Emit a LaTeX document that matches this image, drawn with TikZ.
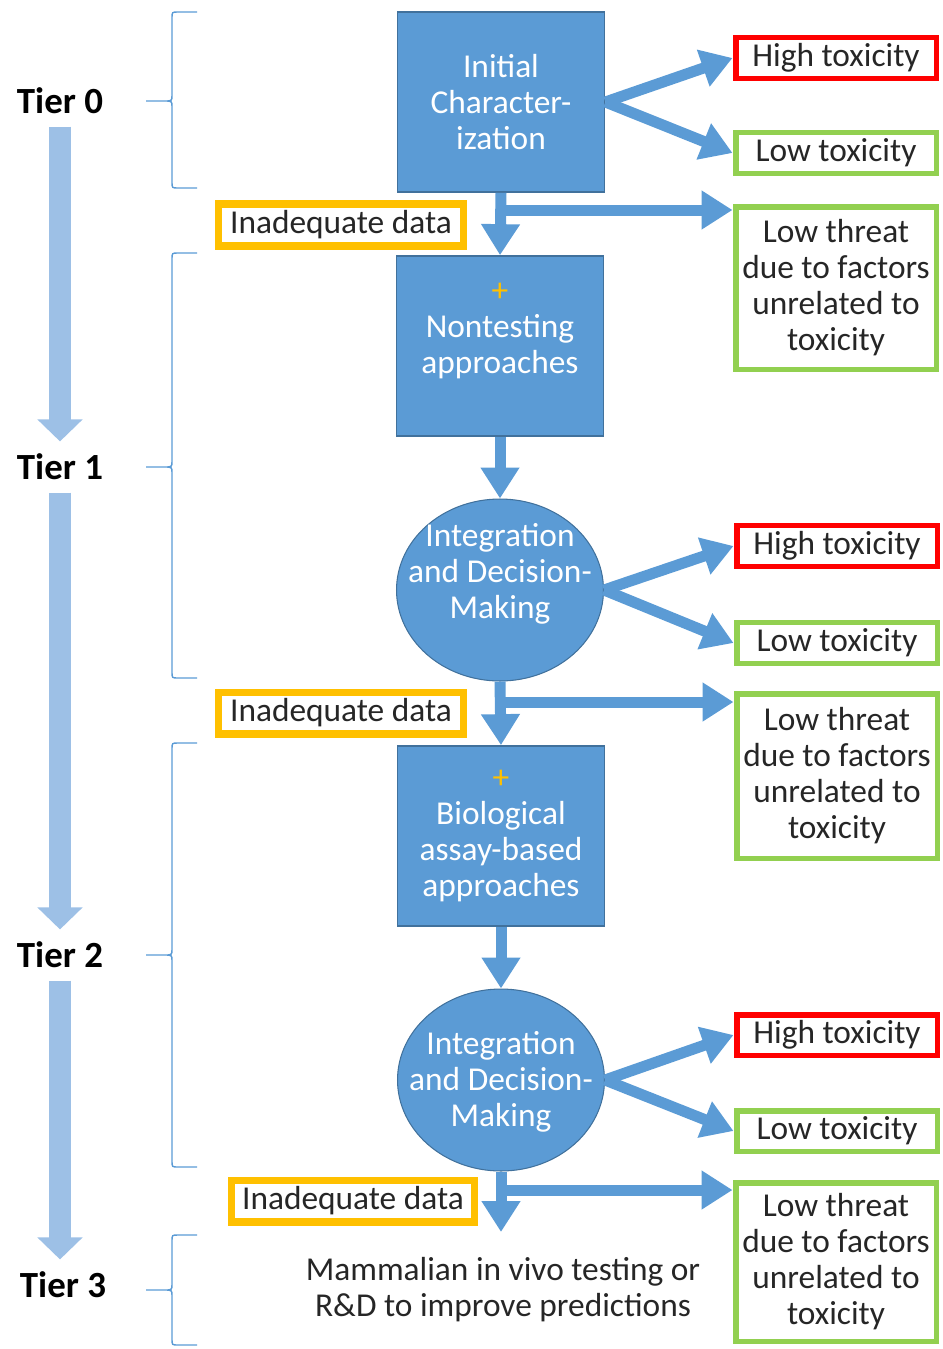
\documentclass[tikz,border=0pt]{standalone}
\usepackage{fontspec}
\setmainfont{Carlito}
\usepackage{tikz}
\usetikzlibrary{shapes.geometric,arrows.meta}
\definecolor{boxblue}{HTML}{5B9BD5}
\definecolor{boxedge}{HTML}{41719C}
\definecolor{tierblue}{HTML}{9DC0E6}
\definecolor{inadorange}{HTML}{FFC000}
\definecolor{highred}{HTML}{FF0000}
\definecolor{lowgreen}{HTML}{92D050}
\definecolor{textgray}{HTML}{262626}

\begin{document}
\begin{tikzpicture}[x=0.02cm,y=-0.02cm]
	\tikzstyle{every node}=[font=\fontsize{19}{20.5}\selectfont, text=textgray, align=center, inner sep=0];
	\tikzstyle{tier}=[font=\fontsize{21}{24}\selectfont\bfseries, text=black, outer sep=0.25cm];
	\tikzstyle{process}=[rectangle, fill=boxblue, draw=boxedge, line width=1pt, text=white, minimum width=4.14cm, minimum height=3.6cm];
	\tikzstyle{decision}=[ellipse, fill=boxblue, draw=boxedge, line width=0.6pt, minimum width=4.14cm, minimum height=3.64cm];
	\tikzstyle{inadequate}=[rectangle, fill=white, draw=inadorange, line width=4pt, minimum width=4.9cm, minimum height=0.84cm];
	\tikzstyle{high}=[rectangle, fill=white, draw=highred, line width=3.4pt, minimum width=4.02cm, minimum height=0.82cm];
	\tikzstyle{low}=[rectangle, fill=white, draw=lowgreen, line width=3.4pt, minimum width=4.02cm, minimum height=0.82cm];
	\tikzstyle{threat}=[low, minimum height=3.26cm];
	\tikzstyle{flow}=[draw=boxblue, line width=0.22cm, -{Triangle[width=0.74cm,length=0.62cm]}];
	\tikzstyle{tierarrow}=[draw=tierblue, line width=0.44cm, -{Triangle[width=0.88cm,length=0.44cm]}];
	\tikzstyle{bracket}=[draw=boxblue, line width=0.8pt];

	\useasboundingbox (0,0) rectangle (943,1349);

	% tiers on the left
	\node[tier] (tier0) at (60,101) {Tier 0};
	\node[tier] (tier1) at (60,467) {Tier 1};
	\node[tier] (tier2) at (60,955) {Tier 2};
	\node[tier] (tier3) at (63,1285) {Tier 3};
	\draw[tierarrow] (tier0) -- (tier1);
	\draw[tierarrow] (tier1) -- (tier2);
	\draw[tierarrow] (tier2) -- (tier2 |- tier3.north);

	\foreach \ya/\yb/\yc in {12/101/188, 253/467/678, 743/955/1167, 1235/1290/1345}
		\draw[bracket] (197,\ya) -- (178,\ya) .. controls (172,\ya) .. (172,{\ya+6}) -- (172,{\yb-6}) .. controls (172,\yb) .. (164,\yb) -- (146,\yb)
			(164,\yb) .. controls (172,\yb) .. (172,{\yb+6}) -- (172,{\yc-6}) .. controls (172,\yc) .. (178,\yc) -- (197,\yc);

	% middle column
	\node[process] (init) at (501,102) {Initial\\Character-\\ization};
	\node[process] (nontest) at (500,346) {\textcolor{inadorange}{+}\\Nontesting\\approaches\\\mbox{}};
	\node[decision] (integ1) at (500,590) {};
	\node[text=white] (integ1text) at (500,574) {Integration\\and Decision-\\Making};
	\node[process] (bio) at (501,836) {\textcolor{inadorange}{+}\\Biological\\assay-based\\approaches};
	\node[decision] (integ2) at (501,1080) {};
	\node[text=white] (integ2text) at (501,1082) {Integration\\and Decision-\\Making};
	\node (mammal) at (503,1290) {Mammalian in vivo testing or\\R\&D to improve predictions};

	\node[inadequate] (inad1) at (341,225) {Inadequate data};
	\node[inadequate] (inad2) at (341,713) {Inadequate data};
	\node[inadequate, minimum width=4.86cm] (inad3) at (353,1201) {Inadequate data};

	% outcomes on the right
	\node[high] (high1) at (836,58) {High toxicity};
	\node[low] (low1) at (836,153) {Low toxicity};
	\node[threat] (threat1) at (836,288) {Low threat\\due to factors\\unrelated to\\toxicity};
	\node[high] (high2) at (837,546) {High toxicity};
	\node[low] (low2) at (837,643) {Low toxicity};
	\node[threat, minimum height=3.3cm] (threat2) at (837,776) {Low threat\\due to factors\\unrelated to\\toxicity};
	\node[high] (high3) at (837,1035) {High toxicity};
	\node[low] (low3) at (837,1131) {Low toxicity};
	\node[threat, minimum height=3.18cm] (threat3) at (836,1262) {Low threat\\due to factors\\unrelated to\\toxicity};

	\coordinate (split0) at (500,210);
	\coordinate (split1) at (500,702);
	\coordinate (split2) at (501,1190);
	\coordinate (end3) at (501,1232);

	\draw[flow] (init.east) -- (high1.west);
	\draw[flow] (init.east) -- (low1.west);
	\draw[flow] (init.south) -- (nontest.north);
	\draw[flow] (split0) -- (split0 -| threat1.west);
	\draw[flow] (nontest.south) -- (integ1.north);
	\draw[flow] (integ1.east) -- (high2.west);
	\draw[flow] (integ1.east) -- (low2.west);
	\draw[flow] (integ1.south) -- (bio.north);
	\draw[flow] (split1) -- (split1 -| threat2.west);
	\draw[flow] (bio.south) -- (integ2.north);
	\draw[flow] (integ2.east) -- (high3.west);
	\draw[flow] (integ2.east) -- (low3.west);
	\draw[flow] (integ2.south) -- (end3);
	\draw[flow] (split2) -- (split2 -| threat3.west);
\end{tikzpicture}
\end{document}
